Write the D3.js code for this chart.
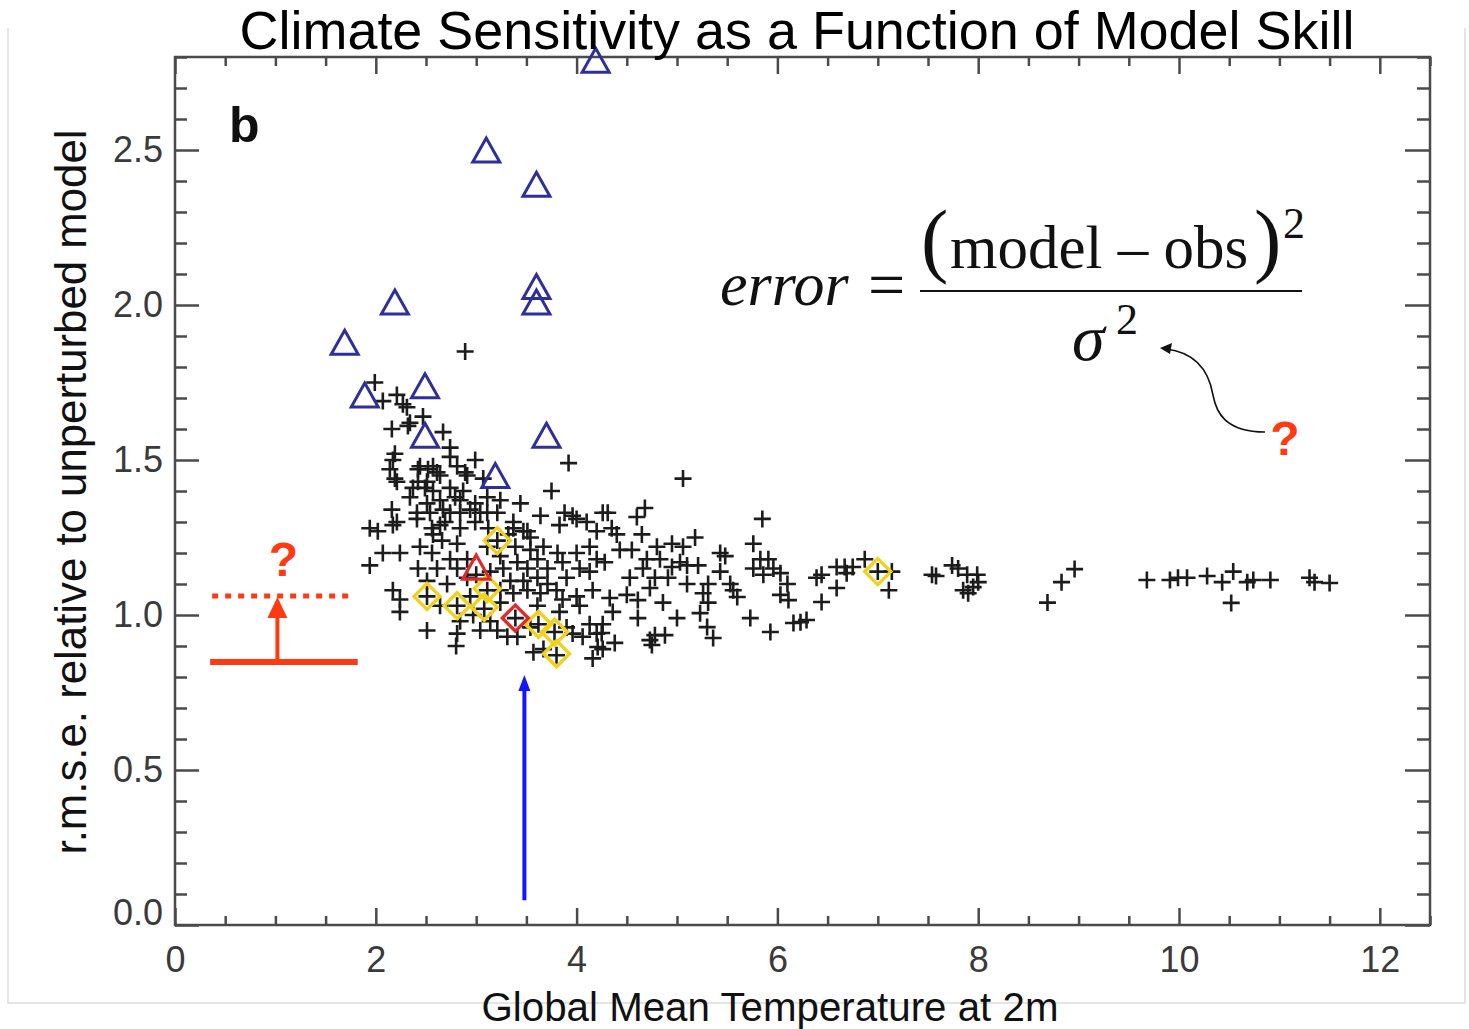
<!DOCTYPE html>
<html><head><meta charset="utf-8">
<script src="https://cdn.jsdelivr.net/npm/d3@7"></script>
<style>body{margin:0;background:#fff} svg{display:block}</style>
</head><body>
<script>
// ---------- data ----------
const xMajorTicks = [0, 2, 4, 6, 8, 10, 12];
const yMajorTicks = [0.0, 0.5, 1.0, 1.5, 2.0, 2.5];
const titleText = "Climate Sensitivity as a Function of Model Skill";
const xLabel = "Global Mean Temperature at 2m";
const yLabel = "r.m.s.e. relative to unperturbed model";

const crossPoints = [
[2.89,1.85],[1.99,1.75],[3.92,1.49],[5.06,1.44],[3.75,1.40],[5.85,1.31],
[2.21,1.71],[2.07,1.69],[2.27,1.68],[2.31,1.67],[2.16,1.60],[2.34,1.62],[2.47,1.64],[2.67,1.59],[2.19,1.52],[2.17,1.50],[2.74,1.54],[2.99,1.50],[2.14,1.47],[2.19,1.44],[2.44,1.48],[2.57,1.48],[2.64,1.45],[2.81,1.48],[2.91,1.45],[3.07,1.44],[2.37,1.41],[2.51,1.43],[2.74,1.41],[2.84,1.37],[2.34,1.38],[3.24,1.37],[3.44,1.36],[2.16,1.34],[2.51,1.36],[2.67,1.34],[3.04,1.33],[2.99,1.30],[3.64,1.32],[3.96,1.32],[3.83,1.29],[4.10,1.30],[1.94,1.28],[2.02,1.27],[2.21,1.30],[2.41,1.31],[2.64,1.29],[3.37,1.28],[3.51,1.27],[4.20,1.27],
[2.32,1.61],[2.74,1.51],[2.21,1.43],[2.42,1.47],[2.52,1.47],[2.61,1.46],[2.89,1.46],[2.42,1.43],[2.49,1.41],[2.57,1.40],[2.64,1.37],[2.79,1.38],[2.87,1.40],[2.99,1.36],[3.11,1.38],[2.41,1.33],[2.54,1.33],[2.74,1.33],[2.84,1.33],[2.94,1.34],[3.21,1.33],[2.17,1.29],[2.56,1.28],[2.69,1.30],[2.84,1.28],[3.12,1.28],
[1.94,1.16],[2.07,1.20],[2.24,1.20],[2.57,1.26],[2.44,1.22],[2.56,1.20],[2.66,1.24],[2.81,1.23],[2.74,1.18],[2.42,1.15],[2.61,1.15],[2.81,1.15],[2.17,1.08],[2.24,1.05],[2.24,1.01],[2.64,1.03],[2.51,0.95],[2.81,0.94],[2.84,0.98],[2.71,1.10],[2.91,1.12],[2.97,1.00],[3.14,0.98],[3.04,0.95],[3.21,0.95],[2.51,1.11],[2.94,1.06],[2.91,1.18],[2.80,0.90],
[3.88,1.33],[4.00,1.31],[4.26,1.33],[3.11,1.33],[3.37,1.30],[3.47,1.27],[3.54,1.25],[3.32,1.26],[3.39,1.22],[3.54,1.21],[3.67,1.22],[3.81,1.20],[4.00,1.20],[4.13,1.22],[4.20,1.18],[3.11,1.22],[3.24,1.19],[3.27,1.15],[3.41,1.17],[3.51,1.15],[3.61,1.18],[3.71,1.15],[3.86,1.17],[3.90,1.12],[4.03,1.15],[4.13,1.14],[3.14,1.14],[3.34,1.11],[3.47,1.11],[3.61,1.12],[3.71,1.10],[3.24,1.08],[3.37,1.07],[3.51,1.08],[3.64,1.07],[3.80,1.08],[3.86,1.05],[4.00,1.06],[4.03,1.03],[4.16,1.08],[3.24,1.04],[3.61,1.03],[3.83,1.01],[4.13,0.97],[4.26,0.97],[3.31,0.93],[3.41,0.93],[3.54,0.96],[3.90,0.96],[3.96,0.94],[3.57,0.88],[3.67,0.89],[4.06,0.93],[4.20,0.94],[4.26,0.89],[4.16,0.86],
[4.31,1.33],[4.68,1.345],[4.60,1.316],[4.35,1.28],[4.40,1.26],[4.65,1.26],[5.18,1.25],[4.43,1.21],[4.55,1.21],[4.80,1.22],[4.95,1.23],[5.06,1.22],[5.76,1.23],[5.43,1.20],[5.48,1.19],[4.28,1.17],[4.70,1.18],[4.83,1.18],[5.03,1.17],[5.10,1.16],[5.21,1.16],[5.83,1.18],[5.91,1.18],[4.66,1.15],[4.95,1.155],[5.43,1.14],[5.76,1.15],[5.96,1.15],[6.03,1.135],[6.87,1.18],[6.75,1.155],[6.67,1.155],[6.59,1.155],[4.53,1.12],[4.78,1.12],[4.91,1.12],[5.10,1.10],[5.31,1.10],[5.53,1.10],[5.86,1.13],[6.10,1.10],[6.39,1.12],[6.44,1.13],[6.69,1.135],[6.59,1.087],[4.33,1.055],[4.36,1.01],[4.50,1.065],[4.61,1.048],[4.73,1.087],[4.86,1.04],[5.26,1.07],[5.31,1.04],[5.23,1.006],[5.56,1.08],[5.60,1.058],[6.03,1.065],[6.11,1.048],[6.44,1.042],[4.61,0.99],[5.00,0.99],[5.73,0.99],[5.93,0.945],[6.16,0.974],[6.23,0.977],[6.29,0.984],[4.25,0.942],[4.38,0.91],[4.21,0.897],[4.73,0.919],[4.78,0.935],[4.88,0.935],[5.30,0.961],[5.36,0.926],[4.75,0.903],
[7.14,1.14],[7.11,1.08],[7.54,1.13],[7.58,1.126],[7.74,1.16],[7.80,1.15],[7.89,1.13],[7.99,1.13],[8.00,1.106],[7.85,1.08],[7.90,1.07],[7.95,1.09],[8.69,1.04],[8.83,1.106],[8.96,1.148],[9.68,1.113],[9.91,1.113],[9.99,1.12],[10.08,1.12],[10.28,1.126],[10.43,1.106],[10.54,1.14],[10.52,1.039],[10.68,1.106],[10.74,1.113],[10.91,1.113],[11.30,1.12],[11.35,1.106],[11.50,1.103],
[3.21,1.24],[2.51,1.06],[2.81,1.03],[3.11,1.08],[3.08,1.02],[3.62,0.97],[3.78,0.945],[3.80,0.87],[7.00,1.14],[3.39,0.99],[3.00,1.13]
];

const blueTriangles = [
[4.19,2.78],[3.10,2.49],[3.60,2.38],[2.19,2.00],[3.60,2.05],[3.60,2.00],
[1.69,1.87],[1.89,1.70],[2.49,1.73],[2.49,1.57],[3.70,1.57],[3.19,1.44]
];
const redTriangles = [[3.00,1.145]];
const yellowDiamonds = [
[3.21,1.24],[2.51,1.06],[2.81,1.03],[3.11,1.085],[3.08,1.025],[3.62,0.97],[3.78,0.945],[3.80,0.875],[7.00,1.14]
];
const redDiamonds = [[3.39,0.99]];

// annotation anchors (data units)
const baselineBar = {x0:0.35, x1:1.82, y:0.848};
const targetBar   = {x0:0.37, x1:1.77, y:1.061};
const redArrowX = 1.02;
const blueArrow = {x:3.48, y0:0.08, y1:0.80};

// ---------- layout ----------
const W = 1469, H = 1029;
const M = {left:175, right:1430, top:57, bottom:925};
const x = d3.scaleLinear().domain([0,12.5]).range([M.left, M.right]);
const y = d3.scaleLinear().domain([0,2.8]).range([M.bottom, M.top]);

const svg = d3.select("body").append("svg").attr("width",W).attr("height",H);

svg.append("path").attr("d",`M8,28V1003H1465V28`).attr("fill","none").attr("stroke","#dcdcdc").attr("stroke-width",1.5);

const axisColor = "#4a4a4a";
const font = "'Liberation Sans', Arial, Helvetica, sans-serif";
const xMinor = d3.range(0, 12.51, 0.5).filter(v => v % 2 !== 0);
const yMinor = d3.range(0, 2.801, 0.1).map(v=>+v.toFixed(1)).filter(v => Math.abs(v*2 - Math.round(v*2)) > 1e-6);

function styleAxis(g){
  g.select(".domain").remove();
  g.selectAll("line").attr("stroke",axisColor).attr("stroke-width",2.5);
  g.selectAll("text").attr("fill","#3a3a3a").style("font-family",font).style("font-size","36px");
}
svg.append("g").attr("transform",`translate(0,${M.bottom})`)
  .call(d3.axisBottom(x).tickValues(xMinor).tickSizeInner(-9).tickSizeOuter(0).tickFormat("")).call(styleAxis);
svg.append("g").attr("transform",`translate(0,${M.bottom})`)
  .call(d3.axisBottom(x).tickValues(xMajorTicks).tickSizeInner(-17).tickSizeOuter(0).tickPadding(21).tickFormat(d3.format("d"))).call(styleAxis);
svg.append("g").attr("transform",`translate(0,${M.top})`)
  .call(d3.axisTop(x).tickValues(xMinor).tickSizeInner(-9).tickSizeOuter(0).tickFormat("")).call(styleAxis);
svg.append("g").attr("transform",`translate(0,${M.top})`)
  .call(d3.axisTop(x).tickValues(xMajorTicks).tickSizeInner(-17).tickSizeOuter(0).tickFormat("")).call(styleAxis);
svg.append("g").attr("transform",`translate(${M.left},0)`)
  .call(d3.axisLeft(y).tickValues(yMinor).tickSizeInner(-12).tickSizeOuter(0).tickFormat("")).call(styleAxis);
const yAxisG = svg.append("g").attr("transform",`translate(${M.left},0)`)
  .call(d3.axisLeft(y).tickValues(yMajorTicks).tickSizeInner(-24).tickSizeOuter(0).tickPadding(12).tickFormat(d3.format(".1f"))).call(styleAxis);
yAxisG.selectAll(".tick").filter(d => d === 0).select("text").attr("y", -12);
svg.append("g").attr("transform",`translate(${M.right},0)`)
  .call(d3.axisRight(y).tickValues(yMinor).tickSizeInner(-13).tickSizeOuter(0).tickFormat("")).call(styleAxis);
svg.append("g").attr("transform",`translate(${M.right},0)`)
  .call(d3.axisRight(y).tickValues(yMajorTicks).tickSizeInner(-25).tickSizeOuter(0).tickFormat("")).call(styleAxis);

svg.append("rect").attr("x",M.left).attr("y",M.top).attr("width",M.right-M.left).attr("height",M.bottom-M.top)
  .attr("fill","none").attr("stroke",axisColor).attr("stroke-width",2.5);

// ---------- marks ----------
const plot = svg.append("g");
plot.selectAll(".cross").data(crossPoints).join("path").attr("class","cross")
  .attr("transform",d=>`translate(${x(d[0])},${y(d[1])})`)
  .attr("d","M-8.5,0H8.5M0,-8.5V8.5").attr("stroke","#1c1c1c").attr("stroke-width",2.6).attr("fill","none");

const diamondPath = "M0,-13L13,0L0,13L-13,0Z";
const triPath = "M0,-15L13.5,9L-13.5,9Z";
plot.selectAll(".yd").data(yellowDiamonds).join("path")
  .attr("transform",d=>`translate(${x(d[0])},${y(d[1])})`).attr("d",diamondPath)
  .attr("fill","none").attr("stroke","#f0d21e").attr("stroke-width",3.4);
plot.selectAll(".rd").data(redDiamonds).join("path")
  .attr("transform",d=>`translate(${x(d[0])},${y(d[1])})`).attr("d",diamondPath)
  .attr("fill","none").attr("stroke","#e02a2a").attr("stroke-width",3.4);
plot.selectAll(".rt").data(redTriangles).join("path")
  .attr("transform",d=>`translate(${x(d[0])},${y(d[1])})`).attr("d",triPath)
  .attr("fill","none").attr("stroke","#e02a2a").attr("stroke-width",3.2);
plot.selectAll(".bt").data(blueTriangles).join("path")
  .attr("transform",d=>`translate(${x(d[0])},${y(d[1])})`).attr("d",triPath)
  .attr("fill","none").attr("stroke","#2f2f9c").attr("stroke-width",3);

// ---------- annotations ----------
const red = "#ff3a12";
svg.append("line").attr("x1",x(baselineBar.x0)).attr("x2",x(baselineBar.x1)).attr("y1",y(baselineBar.y)).attr("y2",y(baselineBar.y))
  .attr("stroke",red).attr("stroke-width",6);
svg.append("line").attr("x1",x(targetBar.x0)).attr("x2",x(targetBar.x1)).attr("y1",y(targetBar.y)).attr("y2",y(targetBar.y))
  .attr("stroke",red).attr("stroke-width",5).attr("stroke-dasharray","6,7");
{
  const ax = x(redArrowX), yb = y(baselineBar.y), yt = y(targetBar.y);
  svg.append("line").attr("x1",ax).attr("x2",ax).attr("y1",yb).attr("y2",yt+18).attr("stroke",red).attr("stroke-width",4);
  svg.append("path").attr("d",`M${ax},${yt+1}L${ax+10},${yt+22}L${ax-10},${yt+22}Z`).attr("fill",red);
  svg.append("text").attr("x",ax+6).attr("y",yt-20).attr("text-anchor","middle").attr("fill",red)
    .style("font-family",font).style("font-weight","bold").style("font-size","48px").text("?");
}
{
  const bx = x(blueArrow.x), y0 = y(blueArrow.y0), y1 = y(blueArrow.y1);
  svg.append("line").attr("x1",bx).attr("x2",bx).attr("y1",y0).attr("y2",y1+10).attr("stroke","#1414ff").attr("stroke-width",4);
  svg.append("path").attr("d",`M${bx},${y1-2}L${bx+6},${y1+14}L${bx-6},${y1+14}Z`).attr("fill","#1414ff");
}

svg.append("text").attr("x",229).attr("y",142).style("font-family",font).style("font-weight","bold")
  .style("font-size","50px").attr("fill","#111").text("b");

// formula
const serif = "'Liberation Serif', 'Times New Roman', serif";
svg.append("text").attr("x",720).attr("y",305).style("font-family",serif).style("font-style","italic")
  .style("font-size","62px").attr("fill","#111").text("error");
svg.append("text").attr("x",868).attr("y",307).style("font-family",serif)
  .style("font-size","66px").attr("fill","#111").text("=");
svg.append("text").attr("x",921).attr("y",267).style("font-family",serif)
  .style("font-size","82px").attr("fill","#111").text("(");
svg.append("text").attr("x",950).attr("y",268).style("font-family",serif)
  .style("font-size","61px").attr("fill","#111").text("model – obs");
svg.append("text").attr("x",1254).attr("y",267).style("font-family",serif)
  .style("font-size","82px").attr("fill","#111").text(")");
svg.append("text").attr("x",1283).attr("y",238).style("font-family",serif)
  .style("font-size","44px").attr("fill","#111").text("2");
svg.append("line").attr("x1",920).attr("x2",1302).attr("y1",291).attr("y2",291).attr("stroke","#111").attr("stroke-width",2);
svg.append("text").attr("x",1072).attr("y",360).style("font-family",serif).style("font-style","italic")
  .style("font-size","66px").attr("fill","#111").text("σ");
svg.append("text").attr("x",1116).attr("y",334).style("font-family",serif)
  .style("font-size","44px").attr("fill","#111").text("2");
svg.append("path").attr("d","M1265,432C1225,432 1216,412 1213,395C1208,366 1192,352 1166,349")
  .attr("fill","none").attr("stroke","#111").attr("stroke-width",1.6);
svg.append("path").attr("d","M1160,348L1172,343L1170,354Z").attr("fill","#111");
svg.append("text").attr("x",1285).attr("y",455).attr("text-anchor","middle").attr("fill",red)
  .style("font-family",font).style("font-weight","bold").style("font-size","48px").text("?");

// titles
function fit(sel, target){
  const w = sel.node().getComputedTextLength();
  const fs = parseFloat(sel.style("font-size"));
  sel.style("font-size", (fs*target/w).toFixed(2)+"px");
}
const t = svg.append("text").attr("x",797).attr("y",49).attr("text-anchor","middle")
  .style("font-family",font).style("font-size","48px").attr("fill","#000").text(titleText);
fit(t, 1115);
const xl = svg.append("text").attr("x",770).attr("y",1021).attr("text-anchor","middle")
  .style("font-family",font).style("font-size","38px").attr("fill","#111").text(xLabel);
fit(xl, 577);
const yl = svg.append("text").attr("transform","translate(86,492) rotate(-90)").attr("text-anchor","middle")
  .style("font-family",font).style("font-size","38px").attr("fill","#111").text(yLabel);
fit(yl, 725);
</script>
</body></html>
